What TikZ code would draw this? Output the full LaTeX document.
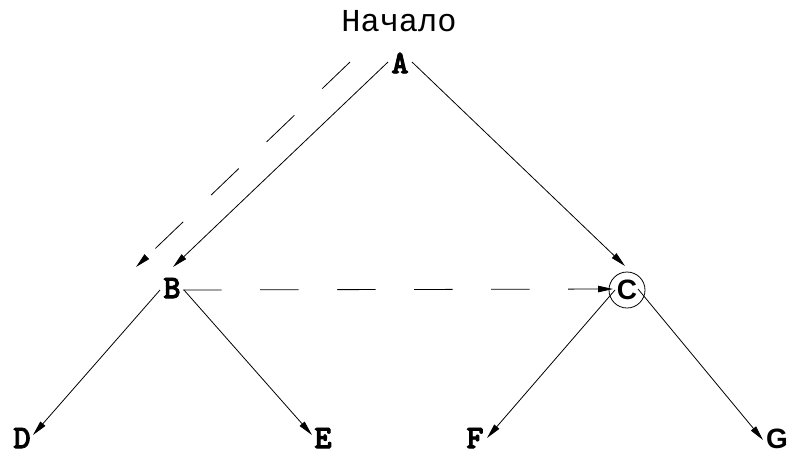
\documentclass[tikz,border=0pt]{standalone}
\usepackage{fontspec}
\newfontfamily\monofont{Liberation Mono}
\newfontfamily\sansfont{Liberation Sans}
\newfontface\ttheavy{lmmonolt10-bold.otf}[FakeBold=2.5]
\usetikzlibrary{arrows.meta}
\begin{document}
\begin{tikzpicture}[x=1pt,y=-1pt,
  lett/.style={inner sep=0pt,font=\ttheavy\fontsize{33}{33}\selectfont},
  slett/.style={inner sep=0pt,font=\sansfont\bfseries\fontsize{28}{28}\selectfont},
  arr/.style={line width=0.8pt,-{Triangle[length=15pt,width=6.5pt]}},
  darr/.style={arr,dash pattern=on 38.5pt off 38.5pt}]
\useasboundingbox (0,0) rectangle (791,456);
\node[inner sep=0pt,font=\monofont\fontsize{32}{32}\selectfont] (start) at (399,21) {Начало};
\node[lett] (A) at (400,63) {A};
\node[lett] (B) at (172,288) {B};
\node[slett,circle,draw,line width=0.8pt,minimum size=36pt] (C) at (627,290) {C};
\node[lett] (D) at (22,438) {D};
\node[lett] (E) at (323,438) {E};
\node[lett] (F) at (475,438) {F};
\node[slett] (G) at (777,439) {G};
\draw[arr] ([shift={(-12,-1)}]A.center) -- ([shift={(1,-21)}]B.center);
\draw[darr] ([shift={(-50,-1)}]A.center) -- ([shift={(-36,-21)}]B.center);
\draw[arr] ([shift={(12,-1)}]A.center) -- ([shift={(-2,-24)}]C.center);
\draw[darr] ([shift={(11,2)}]B.center) -- ([shift={(-14,-1)}]C.center);
\draw[arr] ([shift={(-12,2)}]B.center) -- ([shift={(11,-3)}]D.center);
\draw[arr] ([shift={(12,2)}]B.center) -- ([shift={(-11,-3)}]E.center);
\draw[arr] ([shift={(-12,0)}]C.center) -- ([shift={(12,0)}]F.center);
\draw[arr] ([shift={(11,-1)}]C.center) -- ([shift={(-14,1)}]G.center);
\end{tikzpicture}
\end{document}
